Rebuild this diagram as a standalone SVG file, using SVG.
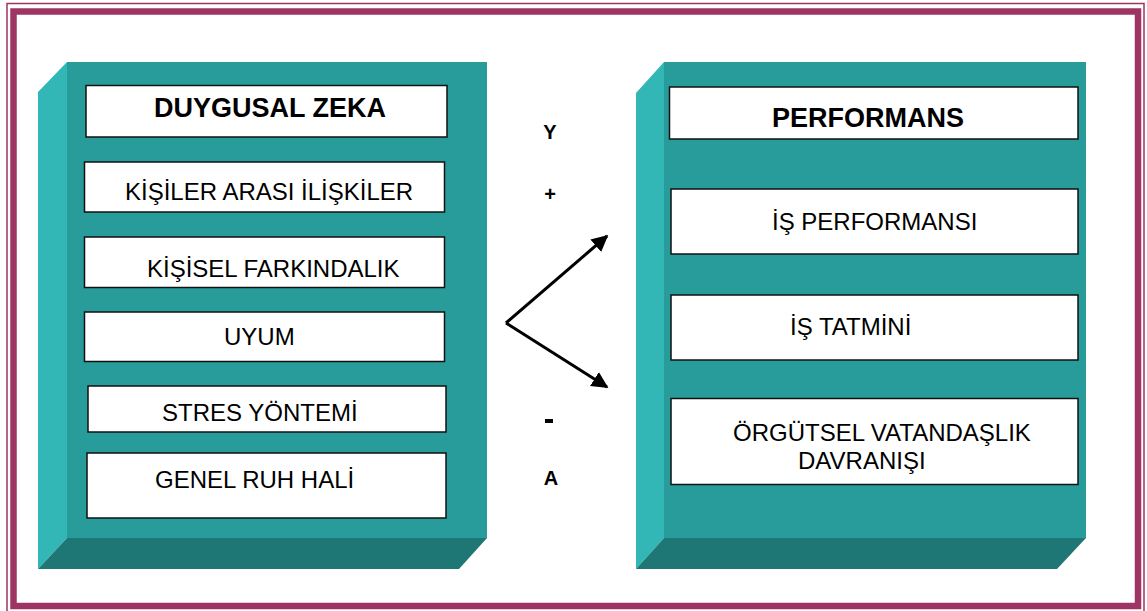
<svg xmlns="http://www.w3.org/2000/svg" width="1147" height="611" viewBox="0 0 1147 611">
<style>
.frame{fill:none;stroke:#9e3464}
.side{fill:#33b6b6}
.front{fill:#289c9b}
.bottom{fill:#1e7774}
.box{fill:#ffffff;stroke:#111111;stroke-width:1.5}
.t{font-family:"Liberation Sans",Arial,sans-serif;font-size:24px;fill:#000}
.h{font-family:"Liberation Sans",Arial,sans-serif;font-size:27px;font-weight:bold;fill:#000}
.s{font-family:"Liberation Sans",Arial,sans-serif;font-size:20px;font-weight:bold;fill:#000;text-anchor:middle}
.c{fill:none;stroke:#000;stroke-width:3}
</style>
<defs>
<marker id="ah" viewBox="0 0 10 10" refX="9" refY="5" markerWidth="5.5" markerHeight="5.5" orient="auto" markerUnits="strokeWidth">
<path d="M0,0 L10,5 L0,10 Z" fill="#000"/>
</marker>
</defs>
<rect width="1147" height="611" fill="#ffffff"/>
<g id="frame">
<rect class="frame" x="7" y="3.5" width="1137" height="610" stroke-width="1.5"/>
<rect class="frame" x="13.5" y="11.5" width="1124.5" height="594.5" stroke-width="6.5"/>
</g>
<g id="left-panel">
<polygon class="side" points="38,92 67,62 67,538 38,569"/>
<rect class="front" x="67" y="62" width="420" height="476"/>
<polygon class="bottom" points="38,569 67,538 487,538 459,569"/>
</g>
<g id="right-panel">
<polygon class="side" points="636,93 664,62 664,538 636,569"/>
<rect class="front" x="664" y="62" width="422" height="476"/>
<polygon class="bottom" points="636,569 664,538 1086,538 1057,569"/>
</g>
<g id="n-duygusal">
<rect class="box" x="86" y="85.5" width="361" height="51.5"/>
<text class="h" x="154" y="117">DUYGUSAL ZEKA</text>
</g>
<g id="n-kisiler">
<rect class="box" x="84.5" y="162" width="360" height="50"/>
<text class="t" x="125" y="200">KİŞİLER ARASI İLİŞKİLER</text>
</g>
<g id="n-kisisel">
<rect class="box" x="84.5" y="237" width="360" height="50.5"/>
<text class="t" x="147" y="277">KİŞİSEL FARKINDALIK</text>
</g>
<g id="n-uyum">
<rect class="box" x="84.5" y="312" width="360" height="49.5"/>
<text class="t" x="224" y="345">UYUM</text>
</g>
<g id="n-stres">
<rect class="box" x="88" y="386" width="358" height="46"/>
<text class="t" x="162" y="421">STRES YÖNTEMİ</text>
</g>
<g id="n-genel">
<rect class="box" x="87" y="453" width="359" height="65"/>
<text class="t" x="155" y="488">GENEL RUH HALİ</text>
</g>
<g id="n-performans">
<rect class="box" x="669.5" y="87" width="408.5" height="52"/>
<text class="h" x="772" y="127">PERFORMANS</text>
</g>
<g id="n-isperf">
<rect class="box" x="671" y="189" width="407" height="65"/>
<text class="t" x="772" y="230">İŞ PERFORMANSI</text>
</g>
<g id="n-istatmin">
<rect class="box" x="671" y="295" width="407" height="65"/>
<text class="t" x="790" y="335">İŞ TATMİNİ</text>
</g>
<g id="n-orgutsel">
<rect class="box" x="671" y="398.5" width="407" height="86"/>
<text class="t" x="733" y="441">ÖRGÜTSEL VATANDAŞLIK</text>
<text class="t" x="798" y="469">DAVRANIŞI</text>
</g>
<g id="labels">
<text class="s" x="550" y="139">Y</text>
<text class="s" x="550" y="201">+</text>
<rect x="545" y="419" width="8" height="4" fill="#000"/>
<text class="s" x="551" y="485">A</text>
</g>
<g id="connectors">
<line class="c" x1="506" y1="323" x2="607" y2="236" marker-end="url(#ah)"/>
<line class="c" x1="506" y1="323" x2="607" y2="387" marker-end="url(#ah)"/>
</g>
</svg>
